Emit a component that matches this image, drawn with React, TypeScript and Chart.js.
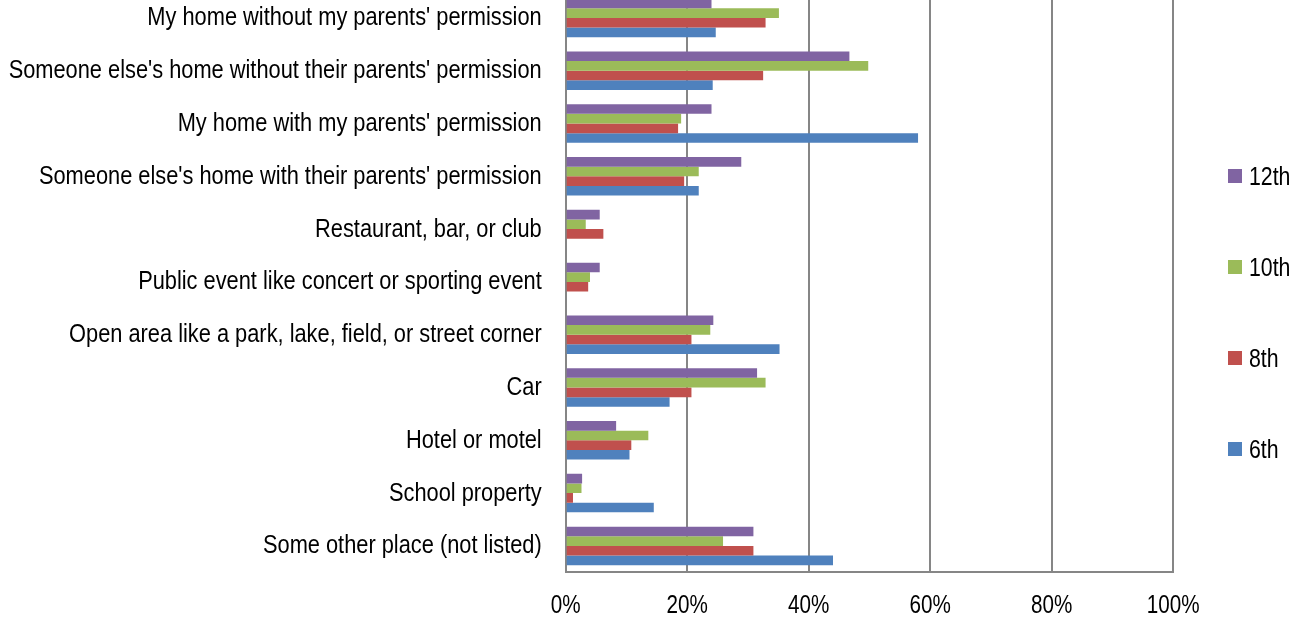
import React, { useEffect, useRef } from "react";
import { Chart, registerables } from "chart.js";

Chart.register(...registerables);

const categories = [
  "My home without my parents' permission",
  "Someone else's home without their parents' permission",
  "My home with my parents' permission",
  "Someone else's home with their parents' permission",
  "Restaurant, bar, or club",
  "Public event like concert or sporting event",
  "Open area like a park, lake, field, or street corner",
  "Car",
  "Hotel or motel",
  "School property",
  "Some other place (not listed)",
];

const grade12 = [24.0, 46.7, 24.0, 28.9, 5.6, 5.6, 24.3, 31.5, 8.3, 2.7, 30.9];
const grade10 = [35.1, 49.8, 19.0, 21.9, 3.3, 4.0, 23.8, 32.9, 13.6, 2.6, 25.9];
const grade8 = [32.9, 32.5, 18.5, 19.5, 6.2, 3.7, 20.7, 20.7, 10.8, 1.2, 30.9];
const grade6 = [24.7, 24.2, 58.0, 21.9, null, null, 35.2, 17.1, 10.5, 14.5, 44.0];

const seriesLabels = ["12th", "10th", "8th", "6th"];
const seriesValues = [grade12, grade10, grade8, grade6];
const seriesColors = ["#8064A2", "#9BBB59", "#C0504D", "#4F81BD"];
const xTickValues = [0, 20, 40, 60, 80, 100];

const FONT = "'Liberation Sans', Arial, sans-serif";
const FONT_SIZE = 25.5;
const SQUEEZE_CAT = 0.855;
const SQUEEZE_TICK = 0.81;
const SQUEEZE_LEGEND = 0.835;
const AXIS_GRAY = "#868686";

// Draws the tick labels in a narrow (horizontally condensed) style, like Arial Narrow.
const narrowLabels = {
  id: "narrowLabels",
  afterDraw(chart: any) {
    const ctx = chart.ctx as CanvasRenderingContext2D;
    const xs = chart.scales.x;
    const ys = chart.scales.y;
    ctx.save();
    ctx.fillStyle = "#000";
    ctx.font = `${FONT_SIZE}px ${FONT}`;
    ctx.textBaseline = "alphabetic";
    ctx.textAlign = "right";
    categories.forEach((label, i) => {
      const y = ys.getPixelForValue(i);
      ctx.save();
      ctx.translate(ys.right - 24, y + 7.5);
      ctx.scale(SQUEEZE_CAT, 1);
      ctx.fillText(label, 0, 0);
      ctx.restore();
    });
    ctx.textAlign = "center";
    xTickValues.forEach((v) => {
      const x = xs.getPixelForValue(v);
      ctx.save();
      ctx.translate(x, xs.top + 41);
      ctx.scale(SQUEEZE_TICK, 1);
      ctx.fillText(v + "%", 0, 0);
      ctx.restore();
    });
    ctx.restore();
  },
};

export default function App() {
  const ref = useRef<HTMLCanvasElement>(null);

  useEffect(() => {
    if (!ref.current) return;
    const chart = new Chart(ref.current, {
      type: "bar",
      data: {
        labels: categories,
        datasets: seriesLabels.map((label, i) => ({
          label,
          data: seriesValues[i] as any,
          backgroundColor: seriesColors[i],
          borderWidth: 0,
          categoryPercentage: 0.73,
          barPercentage: 1,
        })),
      },
      options: {
        indexAxis: "y",
        responsive: false,
        animation: false,
        layout: { padding: { top: 51.5, right: 130.8, bottom: 0, left: 0 } },
        plugins: {
          legend: { display: false },
          tooltip: { enabled: false },
        },
        scales: {
          x: {
            min: 0,
            max: 100,
            afterBuildTicks: (scale: any) => {
              scale.ticks = xTickValues.map((v) => ({ value: v }));
            },
            ticks: { display: false },
            grid: { color: AXIS_GRAY, lineWidth: 2, drawTicks: false },
            border: { color: AXIS_GRAY, width: 2 },
            afterFit: (scale: any) => {
              scale.height = 47.7;
            },
          },
          y: {
            ticks: { display: false },
            grid: { display: false, drawTicks: false },
            border: { color: AXIS_GRAY, width: 2 },
            afterFit: (scale: any) => {
              scale.width = 565.7;
            },
          },
        },
      },
      plugins: [narrowLabels],
    });
    return () => chart.destroy();
  }, []);

  return (
    <div
      style={{
        position: "fixed",
        left: 0,
        top: 0,
        width: 1304,
        height: 620,
        overflow: "hidden",
        background: "#fff",
      }}
    >
      <canvas
        ref={ref}
        width={1304}
        height={680}
        style={{ position: "absolute", left: 0, top: -60, display: "block" }}
      />
      {seriesLabels.map((label, i) => (
        <div
          key={label}
          style={{
            position: "absolute",
            left: 1228,
            top: 176 + i * 91 - 15,
            height: 30,
            display: "flex",
            alignItems: "center",
            fontFamily: FONT,
            fontSize: FONT_SIZE,
            color: "#000",
            whiteSpace: "nowrap",
          }}
        >
          <span
            style={{
              display: "inline-block",
              width: 14,
              height: 14,
              background: seriesColors[i],
              marginRight: 7,
            }}
          />
          <span
            style={{
              display: "inline-block",
              transform: `scaleX(${SQUEEZE_LEGEND})`,
              transformOrigin: "left center",
            }}
          >
            {label}
          </span>
        </div>
      ))}
    </div>
  );
}
